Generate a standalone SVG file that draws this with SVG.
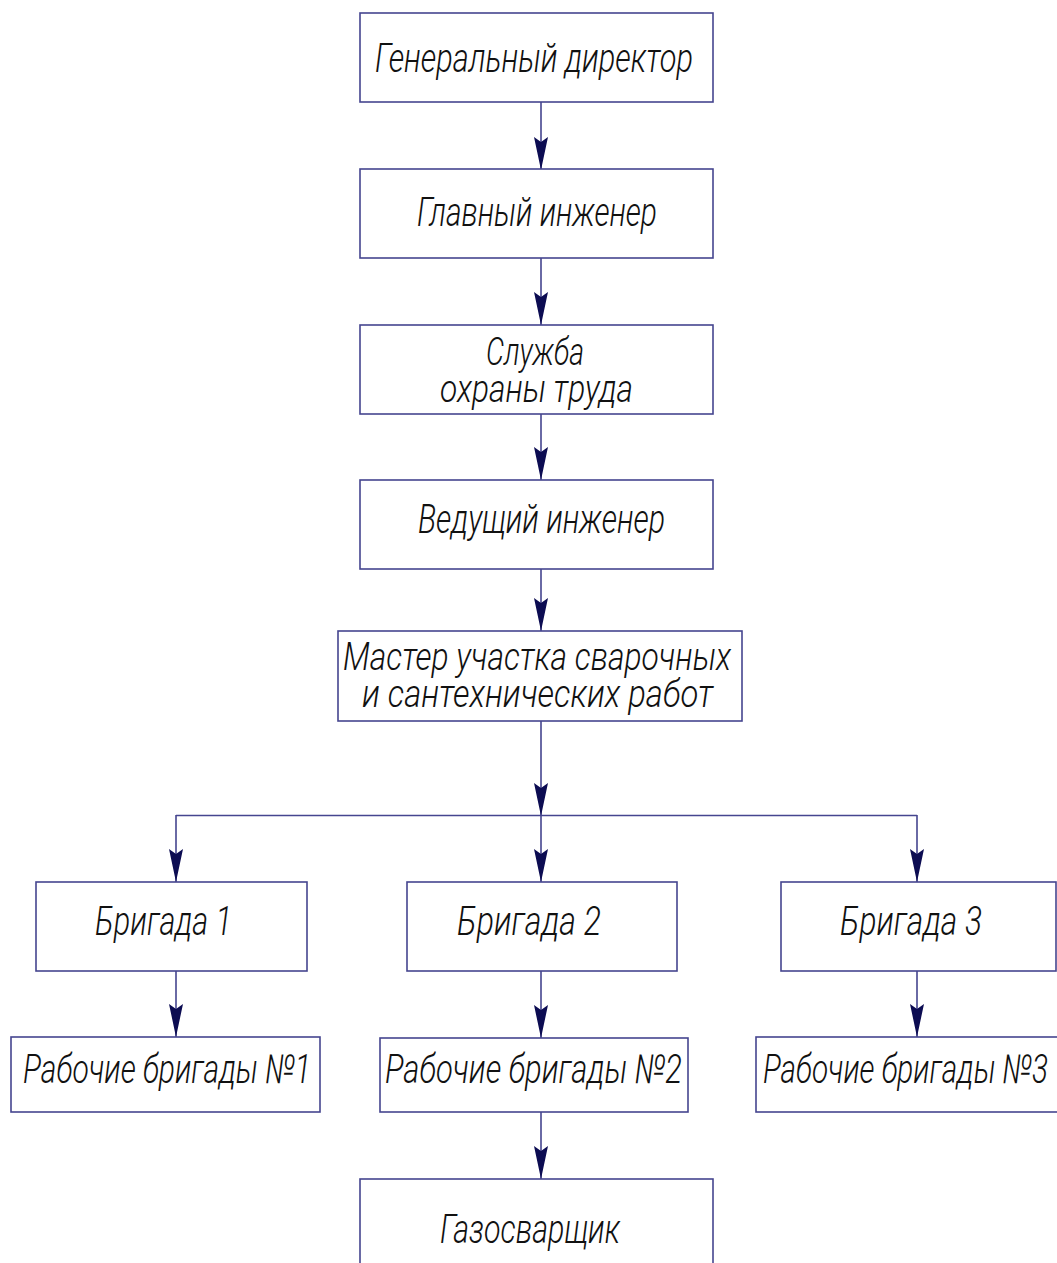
<svg xmlns="http://www.w3.org/2000/svg" width="1057" height="1263" viewBox="0 0 1057 1263">
<style>
.box{fill:#ffffff;stroke:#45458f;stroke-width:1.6}
.con{fill:none;stroke:#45458f;stroke-width:1.6}
.t{font-family:Roboto,"Liberation Sans","DejaVu Sans",sans-serif;font-weight:300;font-style:italic;font-size:40px;fill:#111111;text-anchor:start}
.t2{font-size:38px}
</style>
<defs>
<marker id="ah" markerUnits="userSpaceOnUse" viewBox="0 -8 34 16" markerWidth="34" markerHeight="16" refX="33" refY="0" orient="auto">
<path d="M0,-7 L33,0 L0,7 L5,0 Z" fill="#0c0c52"/>
</marker>
</defs>
<rect width="1057" height="1263" fill="#ffffff"/>
<g id="connectors">
<line class="con" x1="541" y1="102" x2="541" y2="170" marker-end="url(#ah)"/>
<line class="con" x1="541" y1="258" x2="541" y2="325" marker-end="url(#ah)"/>
<line class="con" x1="541" y1="414" x2="541" y2="480" marker-end="url(#ah)"/>
<line class="con" x1="541" y1="569" x2="541" y2="631" marker-end="url(#ah)"/>
<line class="con" x1="541" y1="721" x2="541" y2="816" marker-end="url(#ah)"/>
<line class="con" x1="176" y1="815.5" x2="917" y2="815.5"/>
<line class="con" x1="176" y1="815" x2="176" y2="882" marker-end="url(#ah)"/>
<line class="con" x1="541" y1="815" x2="541" y2="882" marker-end="url(#ah)"/>
<line class="con" x1="917" y1="815" x2="917" y2="882" marker-end="url(#ah)"/>
<line class="con" x1="176" y1="971" x2="176" y2="1037" marker-end="url(#ah)"/>
<line class="con" x1="541" y1="971" x2="541" y2="1038" marker-end="url(#ah)"/>
<line class="con" x1="917" y1="971" x2="917" y2="1037" marker-end="url(#ah)"/>
<line class="con" x1="541" y1="1112" x2="541" y2="1179" marker-end="url(#ah)"/>
</g>
<g id="n-gendir">
<rect class="box" x="360" y="13" width="353" height="89"/>
<text class="t" x="375" y="72" textLength="318" lengthAdjust="spacingAndGlyphs">Генеральный директор</text>
</g>
<g id="n-glavinzh">
<rect class="box" x="360" y="169" width="353" height="89"/>
<text class="t" x="417" y="226" textLength="240" lengthAdjust="spacingAndGlyphs">Главный инженер</text>
</g>
<g id="n-sluzhba">
<rect class="box" x="360" y="325" width="353" height="89"/>
<text class="t t2" x="486" y="365" textLength="98" lengthAdjust="spacingAndGlyphs">Служба</text>
<text class="t t2" x="440" y="402" textLength="193" lengthAdjust="spacingAndGlyphs">охраны труда</text>
</g>
<g id="n-vedinzh">
<rect class="box" x="360" y="480" width="353" height="89"/>
<text class="t" x="418" y="533" textLength="247" lengthAdjust="spacingAndGlyphs">Ведущий инженер</text>
</g>
<g id="n-master">
<rect class="box" x="338" y="631" width="404" height="90"/>
<text class="t t2" x="343" y="670" textLength="388" lengthAdjust="spacingAndGlyphs">Мастер участка сварочных</text>
<text class="t t2" x="362" y="707" textLength="351" lengthAdjust="spacingAndGlyphs">и сантехнических работ</text>
</g>
<g id="n-brig1">
<rect class="box" x="36" y="882" width="271" height="89"/>
<text class="t" x="95" y="935" textLength="137" lengthAdjust="spacingAndGlyphs">Бригада 1</text>
</g>
<g id="n-brig2">
<rect class="box" x="407" y="882" width="270" height="89"/>
<text class="t" x="457" y="935" textLength="144" lengthAdjust="spacingAndGlyphs">Бригада 2</text>
</g>
<g id="n-brig3">
<rect class="box" x="781" y="882" width="275" height="89"/>
<text class="t" x="840" y="935" textLength="142" lengthAdjust="spacingAndGlyphs">Бригада 3</text>
</g>
<g id="n-rab1">
<rect class="box" x="11" y="1037" width="309" height="75"/>
<text class="t" x="23" y="1083" textLength="288" lengthAdjust="spacingAndGlyphs">Рабочие бригады №1</text>
</g>
<g id="n-rab2">
<rect class="box" x="380" y="1038" width="308" height="74"/>
<text class="t" x="385" y="1083" textLength="297" lengthAdjust="spacingAndGlyphs">Рабочие бригады №2</text>
</g>
<g id="n-rab3">
<rect class="box" x="756" y="1037" width="310" height="75"/>
<text class="t" x="763" y="1083" textLength="285" lengthAdjust="spacingAndGlyphs">Рабочие бригады №3</text>
</g>
<g id="n-gazo">
<rect class="box" x="360" y="1179" width="353" height="100"/>
<text class="t" x="440" y="1243" textLength="180" lengthAdjust="spacingAndGlyphs">Газосварщик</text>
</g>
</svg>
